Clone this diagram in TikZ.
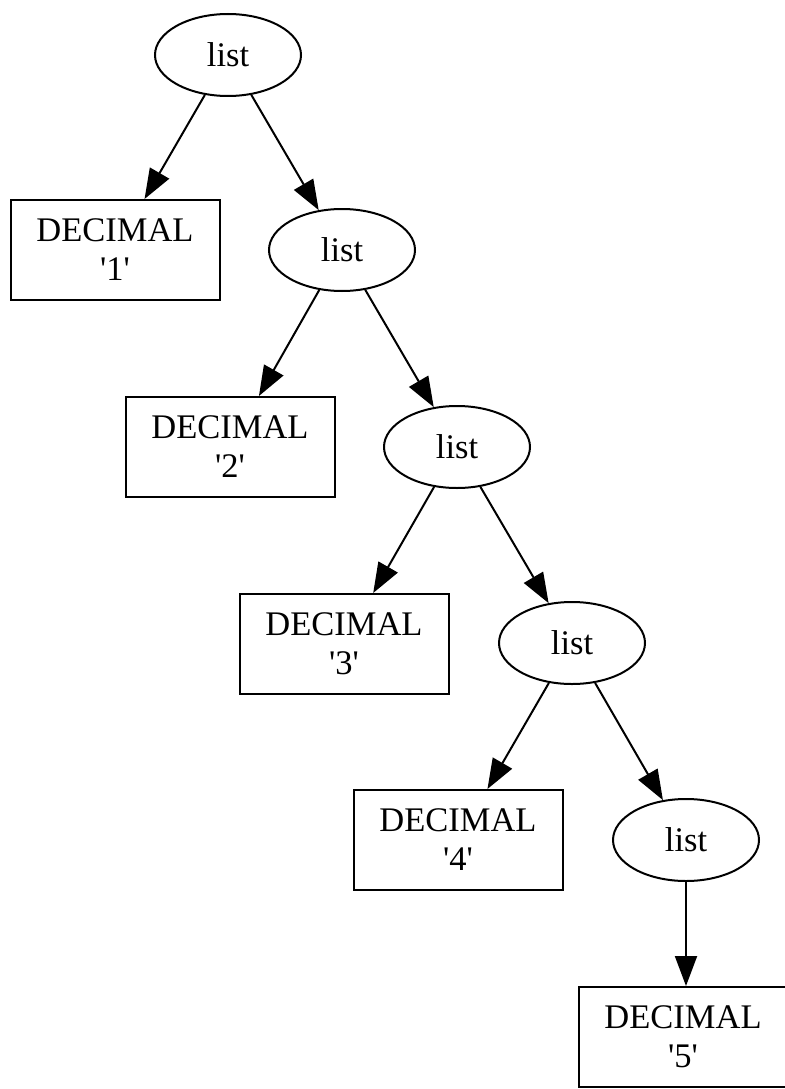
\documentclass[tikz,border=0pt]{standalone}
\usepackage{fontspec}
\setmainfont{Liberation Serif}[Ligatures=TeXOff]
\usetikzlibrary{shapes.geometric,arrows.meta}
\begin{document}
\begin{tikzpicture}[x=1pt,y=-1pt,
  lst/.style={draw,line width=2pt,ellipse,minimum width=146pt,minimum height=82pt,inner sep=0pt,font=\fontsize{34.5}{38}\selectfont},
  dec/.style={draw,line width=2pt,rectangle,minimum width=209pt,minimum height=100pt,inner sep=0pt,align=center,font=\fontsize{34.5}{39}\selectfont},
  edge/.style={line width=2pt,-{Triangle[length=30pt,width=22pt]}}]
\useasboundingbox (0,0) rectangle (784,1089);
\node[lst] (l1) at (228,55) {list};
\node[dec] (d1) at (115,250) {DECIMAL\\'1'};
\node[lst] (l2) at (342,250) {list};
\node[dec] (d2) at (230,447) {DECIMAL\\'2'};
\node[lst] (l3) at (457,447) {list};
\node[dec] (d3) at (344,644) {DECIMAL\\'3'};
\node[lst] (l4) at (572,643) {list};
\node[dec] (d4) at (458,840) {DECIMAL\\'4'};
\node[lst] (l5) at (686,840) {list};
\node[dec] (d5) at (683,1037) {DECIMAL\\'5'};
\draw[edge] (l1) -- (d1);
\draw[edge] (l1) -- (l2);
\draw[edge] (l2) -- (d2);
\draw[edge] (l2) -- (l3);
\draw[edge] (l3) -- (d3);
\draw[edge] (l3) -- (l4);
\draw[edge] (l4) -- (d4);
\draw[edge] (l4) -- (l5);
\draw[edge] (l5) -- (d5.north -| l5);
\end{tikzpicture}
\end{document}
